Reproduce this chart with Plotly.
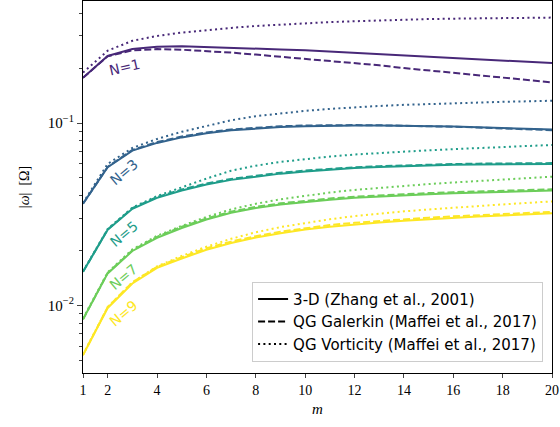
import math
import plotly.graph_objects as go

m = list(range(1, 21))

N_values = [1, 3, 5, 7, 9]
colors = ["#482878", "#33638d", "#1f9d8a", "#6ccd5a", "#fde725"]

# 3-D (Zhang et al., 2001)
solid_N1 = [0.177, 0.233, 0.254, 0.262, 0.263, 0.261, 0.259, 0.256, 0.253, 0.250,
            0.246, 0.243, 0.239, 0.235, 0.231, 0.227, 0.223, 0.220, 0.216, 0.213]
solid_N3 = [0.0361, 0.0572, 0.0706, 0.0778, 0.0834, 0.0878, 0.0912, 0.0935, 0.0950, 0.0960,
            0.0966, 0.0968, 0.0968, 0.0966, 0.0962, 0.0956, 0.0948, 0.0940, 0.0932, 0.0922]
solid_N5 = [0.0153, 0.0260, 0.0339, 0.0389, 0.0427, 0.0460, 0.0488, 0.0510, 0.0528, 0.0543,
            0.0556, 0.0566, 0.0574, 0.0581, 0.0586, 0.0590, 0.0593, 0.0595, 0.0596, 0.0597]
solid_N7 = [0.0084, 0.0150, 0.0199, 0.0235, 0.0266, 0.0296, 0.0322, 0.0342, 0.0358, 0.0370,
            0.0380, 0.0389, 0.0396, 0.0402, 0.0407, 0.0412, 0.0416, 0.0420, 0.0424, 0.0427]
solid_N9 = [0.00535, 0.0097, 0.0132, 0.0161, 0.0181, 0.0202, 0.0220, 0.0236, 0.0249, 0.0261,
            0.0270, 0.0278, 0.0285, 0.0291, 0.0297, 0.0302, 0.0307, 0.0311, 0.0315, 0.0320]

# QG Galerkin (Maffei et al., 2017)
dash_N1 = [0.177, 0.232, 0.250, 0.254, 0.252, 0.248, 0.243, 0.237, 0.231, 0.225,
           0.219, 0.213, 0.207, 0.200, 0.194, 0.188, 0.182, 0.177, 0.172, 0.167]
dash_N3 = [0.0361, 0.0575, 0.0712, 0.0786, 0.0843, 0.0888, 0.0922, 0.0945, 0.0960, 0.0969,
           0.0973, 0.0974, 0.0972, 0.0968, 0.0962, 0.0954, 0.0945, 0.0935, 0.0924, 0.0913]
dash_N5 = [0.0153, 0.0261, 0.0342, 0.0393, 0.0432, 0.0466, 0.0494, 0.0516, 0.0534, 0.0549,
           0.0562, 0.0572, 0.0580, 0.0587, 0.0592, 0.0596, 0.0599, 0.0601, 0.0602, 0.0603]
dash_N7 = [0.0084, 0.0151, 0.0201, 0.0238, 0.0270, 0.0300, 0.0327, 0.0347, 0.0363, 0.0376,
           0.0386, 0.0395, 0.0402, 0.0408, 0.0413, 0.0418, 0.0422, 0.0426, 0.0430, 0.0433]
dash_N9 = [0.00535, 0.0098, 0.0134, 0.0163, 0.0184, 0.0206, 0.0224, 0.0240, 0.0254, 0.0266,
           0.0276, 0.0284, 0.0291, 0.0297, 0.0303, 0.0308, 0.0313, 0.0317, 0.0321, 0.0326]

# QG Vorticity (Maffei et al., 2017)
dot_N1 = [0.189, 0.249, 0.282, 0.300, 0.313, 0.323, 0.332, 0.340, 0.346, 0.352,
          0.357, 0.361, 0.365, 0.368, 0.371, 0.373, 0.375, 0.376, 0.377, 0.378]
dot_N3 = [0.0365, 0.0597, 0.0730, 0.0818, 0.0895, 0.0966, 0.1035, 0.1090, 0.1130, 0.1165,
          0.1195, 0.1220, 0.1240, 0.1257, 0.1272, 0.1285, 0.1296, 0.1306, 0.1315, 0.1324]
dot_N5 = [0.0154, 0.0263, 0.0344, 0.0398, 0.0444, 0.0496, 0.0548, 0.0584, 0.0612, 0.0635,
          0.0655, 0.0672, 0.0686, 0.0698, 0.0709, 0.0719, 0.0729, 0.0738, 0.0748, 0.0758]
dot_N7 = [0.0085, 0.0152, 0.0203, 0.0241, 0.0273, 0.0306, 0.0336, 0.0361, 0.0382, 0.0400,
          0.0416, 0.0430, 0.0442, 0.0453, 0.0463, 0.0472, 0.0481, 0.0490, 0.0499, 0.0508]
dot_N9 = [0.0054, 0.0098, 0.0134, 0.0164, 0.0187, 0.0210, 0.0232, 0.0252, 0.0269, 0.0284,
          0.0297, 0.0309, 0.0319, 0.0328, 0.0336, 0.0344, 0.0351, 0.0358, 0.0365, 0.0372]

solid = [solid_N1, solid_N3, solid_N5, solid_N7, solid_N9]
dashed = [dash_N1, dash_N3, dash_N5, dash_N7, dash_N9]
dotted = [dot_N1, dot_N3, dot_N5, dot_N7, dot_N9]

# label anchor (m, value) and angle for each N
label_m = [2.70, 2.66, 2.64, 2.64, 2.66]
label_val = [0.203, 0.0542, 0.0248, 0.01429, 0.00908]
label_angle = [-13, -40, -40, -40, -40]

legend_names = ["3-D (Zhang et al., 2001)",
                "QG Galerkin (Maffei et al., 2017)",
                "QG Vorticity (Maffei et al., 2017)"]
styles = ["solid", "7px,3px", "2px,3.3px"]

x_ticks = [1, 2, 4, 6, 8, 10, 12, 14, 16, 18, 20]
y_major = [0.01, 0.1]
y_major_text = ["10<sup>−2</sup>", "10<sup>−1</sup>"]
y_minor = [0.005, 0.006, 0.007, 0.008, 0.009,
           0.02, 0.03, 0.04, 0.05, 0.06, 0.07, 0.08, 0.09,
           0.2, 0.3, 0.4]

fig = go.Figure()
for i, N in enumerate(N_values):
    for series, dash in zip([solid[i], dashed[i], dotted[i]], styles):
        fig.add_trace(go.Scatter(x=m, y=series, mode="lines",
                                 line=dict(color=colors[i], width=2, dash=dash),
                                 showlegend=False, hoverinfo="skip"))
    # annotations on a log axis take log10 of the value
    fig.add_annotation(x=label_m[i], y=math.log10(label_val[i]), xref="x", yref="y",
                       text=f"N={N}", showarrow=False, textangle=label_angle[i],
                       font=dict(family="DejaVu Sans", size=14, color=colors[i]))

for name, dash in zip(legend_names, styles):
    fig.add_trace(go.Scatter(x=[None], y=[None], mode="lines", name=name,
                             line=dict(color="black", width=2, dash=dash)))

fig.update_layout(
    width=560, height=427,
    margin=dict(l=83, r=8, t=1, b=54),
    plot_bgcolor="white", paper_bgcolor="white",
    font=dict(family="Liberation Serif", size=14, color="black"),
    legend=dict(x=0.981, y=0.03, xanchor="right", yanchor="bottom",
                bgcolor="rgba(255,255,255,0.85)", bordercolor="#cccccc", borderwidth=1,
                font=dict(family="DejaVu Sans", size=15, color="black"),
                tracegroupgap=0, itemwidth=30),
    xaxis=dict(range=[1, 20], tickvals=x_ticks, ticks="outside", ticklen=4,
               showgrid=False, zeroline=False, showline=True, linecolor="black",
               linewidth=1.2, mirror=True,
               title=dict(text="<i>m</i>", standoff=6, font=dict(size=15)),
               tickfont=dict(family="Liberation Serif", size=14)),
    yaxis=dict(type="log", range=[math.log10(0.00427), math.log10(0.466)],
               tickvals=y_major, ticktext=y_major_text, ticks="outside", ticklen=5,
               showgrid=False, zeroline=False, showline=True, linecolor="black",
               linewidth=1.2, mirror=True,
               minor=dict(tickvals=y_minor, ticks="outside", ticklen=3, showgrid=False),
               title=dict(text="|<i>ω</i>|  [Ω]", standoff=14, font=dict(size=14)),
               tickfont=dict(family="Liberation Serif", size=15)),
)

fig.write_html("out.html")
